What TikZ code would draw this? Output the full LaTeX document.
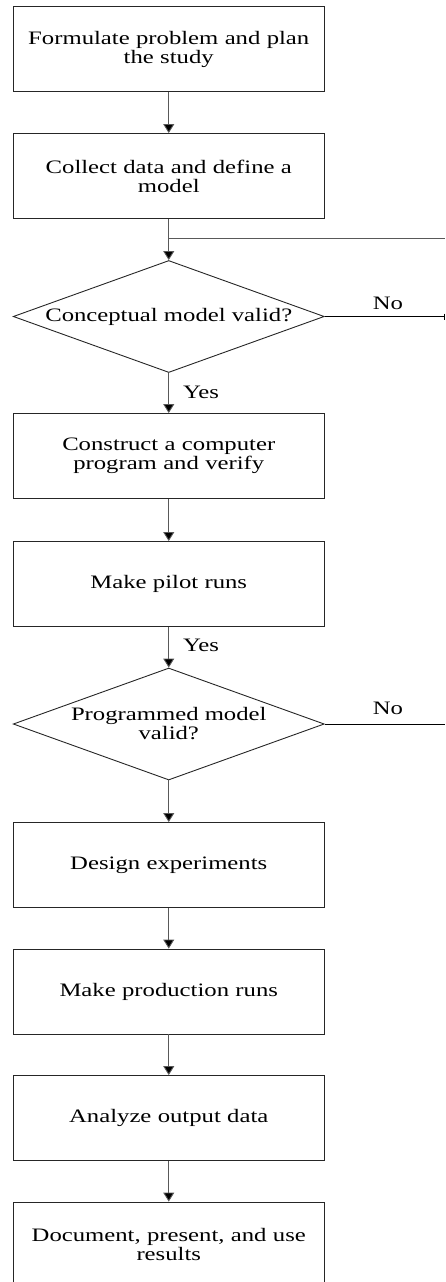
\documentclass[tikz,border=0pt]{standalone}
\usepackage{fontspec}
\setmainfont[FakeStretch=1.3]{Liberation Serif}
\usetikzlibrary{arrows.meta,shapes.geometric}
\begin{document}
\begin{tikzpicture}[x=1pt,y=-1pt,
  txt/.style={font=\fontsize{19}{19}\selectfont, align=center, inner sep=0pt},
  stepbox/.style={txt, draw=black!85, line width=0.9pt, minimum width=311.5pt,
                  minimum height=85pt, text width=300pt},
  decision/.style={diamond, draw=black!85, line width=0.9pt, inner sep=0pt,
                   minimum width=311pt, minimum height=112pt},
  link/.style={draw=black!65, line width=0.9pt},
  flow/.style={link, -{Triangle[width=11pt,length=9pt,fill=black]}},
  lbl/.style={txt}
]
\clip (0,0) rectangle (445,1282);

% process steps and decisions
\node[stepbox] (b1) at (168.75,49)    {Formulate problem and plan\\the study};
\node[stepbox] (b2) at (168.75,176)   {Collect data and define a\\model};
\node[decision] (d1) at (168.75,316.5) {};
\node[txt] (d1t) at (d1.center) {Conceptual model valid?};
\node[stepbox] (b3) at (168.75,456)   {Construct a computer\\program and verify};
\node[stepbox] (b4) at (168.75,584)   {Make pilot runs};
\node[decision] (d2) at (168.75,724)  {};
\node[txt] (d2t) at (d2.center) {Programmed model\\valid?};
\node[stepbox] (b5) at (168.75,865)   {Design experiments};
\node[stepbox] (b6) at (168.75,991.5) {Make production runs};
\node[stepbox] (b7) at (168.75,1118)  {Analyze output data};
\node[stepbox] (b8) at (168.75,1244.5){Document, present, and use\\results};

% loop junction and the off-page return lines
\coordinate (j1) at (168.75,238);
\coordinate (loopR) at (445,238);
\coordinate (no1R) at (445,316.5);
\coordinate (no2R) at (445,724);

% main flow
\draw[flow] (b1) -- (b2);
\draw[link] (b2) -- (j1);
\draw[flow] (j1) -- (d1);
\draw[link] (j1) -- (loopR);
\draw[flow] (d1) -- (b3);
\draw[flow] (b3) -- (b4);
\draw[flow] (b4) -- (d2);
\draw[flow] (d2) -- (b5);
\draw[flow] (b5) -- (b6);
\draw[flow] (b6) -- (b7);
\draw[flow] (b7) -- (b8);

% "No" branches
\draw[link, draw=black, -{Bar[width=6pt]}] (d1.east) -- (no1R);
\draw[link, draw=black] (d2.east) -- (no2R);

% branch labels
\node[lbl] (yes1) at (201,392) {Yes};
\node[lbl] (yes2) at (201,645) {Yes};
\node[lbl] (no1)  at (388,303) {No};
\node[lbl] (no2)  at (388,708) {No};
\end{tikzpicture}
\end{document}
